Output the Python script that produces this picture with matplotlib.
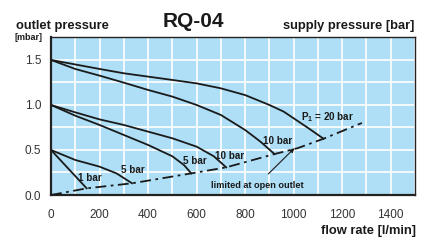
import matplotlib.pyplot as plt

plt.rcParams['font.family'] = ['Liberation Sans', 'DejaVu Sans']
plt.rcParams['mathtext.fontset'] = 'custom'
plt.rcParams['mathtext.rm'] = 'Liberation Sans:bold'
plt.rcParams['mathtext.bf'] = 'Liberation Sans:bold'

# Characteristic curves (flow rate l/min, outlet pressure mbar)
p20_flow = [0, 100, 200, 300, 400, 500, 600, 700, 800, 900, 959, 1000, 1062, 1123]
p20_pres = [1.5, 1.45, 1.40, 1.352, 1.315, 1.278, 1.24, 1.185, 1.11, 1.0, 0.926, 0.852, 0.74, 0.625]

p10a_flow = [0, 100, 200, 300, 400, 500, 600, 700, 800, 863, 921]
p10a_pres = [1.5, 1.40, 1.326, 1.248, 1.167, 1.093, 1.0, 0.889, 0.722, 0.593, 0.455]

p10b_flow = [0, 100, 200, 300, 400, 500, 600, 671, 722]
p10b_pres = [1.0, 0.918, 0.84, 0.778, 0.704, 0.63, 0.537, 0.43, 0.307]

p5b_flow = [0, 100, 200, 300, 400, 500, 548, 578]
p5b_pres = [1.0, 0.881, 0.778, 0.667, 0.556, 0.43, 0.333, 0.24]

p5a_flow = [0, 100, 200, 270, 334]
p5a_pres = [0.5, 0.389, 0.315, 0.24, 0.13]

p1_flow = [0, 147]
p1_pres = [0.5, 0.074]

# limit at open outlet
lim_flow = [0, 147, 334, 578, 722, 921, 1016, 1123, 1281]
lim_pres = [0, 0.074, 0.13, 0.24, 0.307, 0.455, 0.52, 0.625, 0.80]

curve_labels = ['1 bar', '5 bar', '5 bar', '10 bar', '10 bar', 'P$_{\\mathbf{1}}$ = 20 bar']
label_x = [160, 339, 592, 736, 934, 1138]
label_y = [0.19, 0.28, 0.38, 0.43, 0.60, 0.86]

fig = plt.figure(figsize=(4.31, 2.4), dpi=100)
ax = fig.add_axes([51 / 431, 45 / 240, 364 / 431, 158 / 240])
ax.set_facecolor('#aedff6')

curves = [(p20_flow, p20_pres), (p10a_flow, p10a_pres), (p10b_flow, p10b_pres),
          (p5b_flow, p5b_pres), (p5a_flow, p5a_pres), (p1_flow, p1_pres)]
for fx, fy in curves:
    ax.plot(fx, fy, color='#1a1a1a', lw=1.3, solid_joinstyle='round', zorder=3)

ax.plot(lim_flow, lim_pres, color='#1a1a1a', lw=1.3,
        dashes=(6, 2.5, 1.5, 2.5), zorder=3)

for txt, lx, ly in zip(curve_labels, label_x, label_y):
    ax.text(lx, ly, txt, fontsize=7.1, fontweight='bold', color='#1a1a1a',
            ha='center', va='center', zorder=4)

ax.annotate('limited at open outlet', xy=(1003, 0.52), xytext=(849, 0.11),
            fontsize=6.6, fontweight='bold', color='#1a1a1a', ha='center', va='center',
            arrowprops=dict(arrowstyle='-|>', color='#1a1a1a', lw=0.8,
                            mutation_scale=6, shrinkA=4, shrinkB=0))

ax.set_xlim(0, 1500)
ax.set_ylim(0, 1.755)
ax.set_xticks(range(0, 1401, 200))
ax.set_xticks(range(0, 1501, 100), minor=True)
ax.set_yticks([0, 0.5, 1.0, 1.5])
ax.set_yticklabels(['0.0', '0.5', '1.0', '1.5'])
ax.set_yticks([0.25, 0.75, 1.25], minor=True)
ax.grid(True, which='both', color='white', lw=1.2)
ax.set_axisbelow(True)
ax.tick_params(which='both', length=0, labelsize=8.5, labelcolor='#333333')
ax.tick_params(axis='x', pad=10)
ax.tick_params(axis='y', pad=7)
for s in ax.spines.values():
    s.set_color('#222222')
    s.set_linewidth(1.0)
ax.spines['left'].set_linewidth(1.6)
ax.spines['bottom'].set_linewidth(1.6)

fig.text(16 / 431, 1 - 29.3 / 240, 'outlet pressure', fontsize=9.3, fontweight='bold',
         ha='left', va='baseline', color='#1a1a1a')
fig.text(15 / 431, 1 - 37 / 240, '[mbar]', fontsize=6.5, fontweight='bold',
         ha='left', va='center', color='#1a1a1a')
fig.text(193.7 / 431, 1 - 26.7 / 240, 'RQ-04', fontsize=15, fontweight='bold',
         ha='center', va='baseline', color='#1a1a1a')
fig.text(414 / 431, 1 - 29.3 / 240, 'supply pressure [bar]', fontsize=9.3, fontweight='bold',
         ha='right', va='baseline', color='#1a1a1a')
fig.text(416 / 431, 1 - 234 / 240, 'flow rate [l/min]', fontsize=9.3, fontweight='bold',
         ha='right', va='baseline', color='#1a1a1a')

fig.savefig('out.png', dpi=100)
